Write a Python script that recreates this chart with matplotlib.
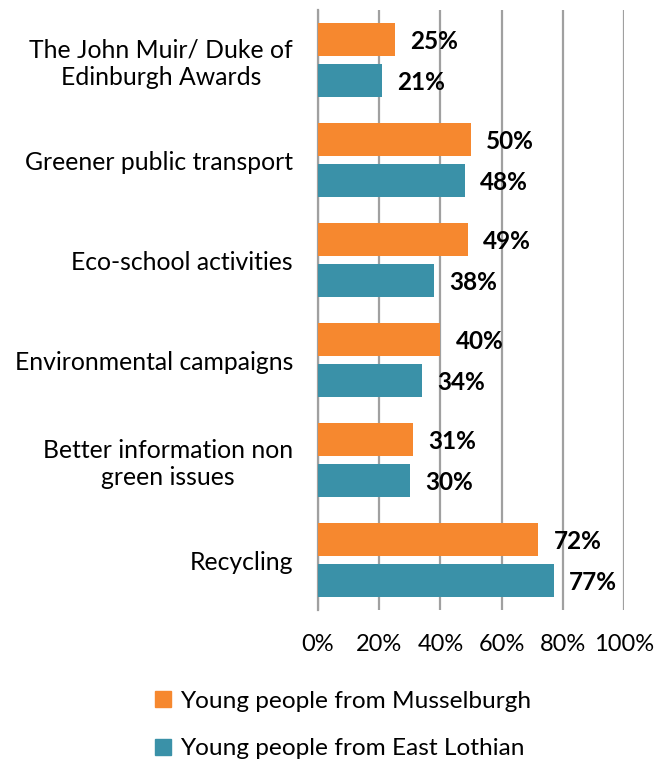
import matplotlib.pyplot as plt
from matplotlib.patches import Patch
import numpy as np

plt.rcParams['font.family'] = ['Lato', 'DejaVu Sans']

categories = ["The John Muir/ Duke of\nEdinburgh Awards",
              "Greener public transport",
              "Eco-school activities",
              "Environmental campaigns",
              "Better information non\ngreen issues",
              "Recycling"]
musselburgh = [25, 50, 49, 40, 31, 72]
east_lothian = [21, 48, 38, 34, 30, 77]
series_names = ["Young people from Musselburgh", "Young people from East Lothian"]
x_ticks = [0, 20, 40, 60, 80, 100]

orange = "#F6882F"
teal = "#3A91A8"

fig = plt.figure(figsize=(6.65, 7.63), dpi=100)
ax = fig.add_axes([318 / 665, 1 - 610 / 763, 306 / 665, 600 / 763])

y = np.arange(len(categories))
h = 0.33
off = 0.205
ax.barh(y - off, musselburgh, height=h, color=orange, zorder=3)
ax.barh(y + off, east_lothian, height=h, color=teal, zorder=3)

for yi, v in zip(y - off, musselburgh):
    ax.text(v + 5, yi + 0.02, f"{v}%", va="center", ha="left",
            fontsize=17.5, fontweight="bold")
for yi, v in zip(y + off, east_lothian):
    ax.text(v + 5, yi + 0.02, f"{v}%", va="center", ha="left",
            fontsize=17.5, fontweight="bold")

ax.set_xlim(0, 100)
ax.set_ylim(5.5, -0.5)
ax.set_xticks(x_ticks)
ax.set_xticklabels([f"{t}%" for t in x_ticks], fontsize=17)
ax.set_yticks(y)
ax.set_yticklabels(categories, fontsize=17.8, multialignment="center")
ax.tick_params(axis="both", length=0)
ax.tick_params(axis="x", pad=17)
ax.tick_params(axis="y", pad=18)

ax.grid(axis="x", color="#A0A0A0", linewidth=1.6, zorder=0)
for s in ["top", "right", "bottom"]:
    ax.spines[s].set_visible(False)
ax.spines["left"].set_color("#A0A0A0")
ax.spines["left"].set_linewidth(1.6)

handles = [Patch(color=orange), Patch(color=teal)]
fig.legend(handles, series_names, loc="center", bbox_to_anchor=(343 / 665, 1 - 725 / 763),
           ncol=1, frameon=False, fontsize=17.6, handlelength=0.65, handleheight=0.65,
           handletextpad=0.35, labelspacing=1.1, borderpad=0)

fig.savefig("out.png", dpi=100)
